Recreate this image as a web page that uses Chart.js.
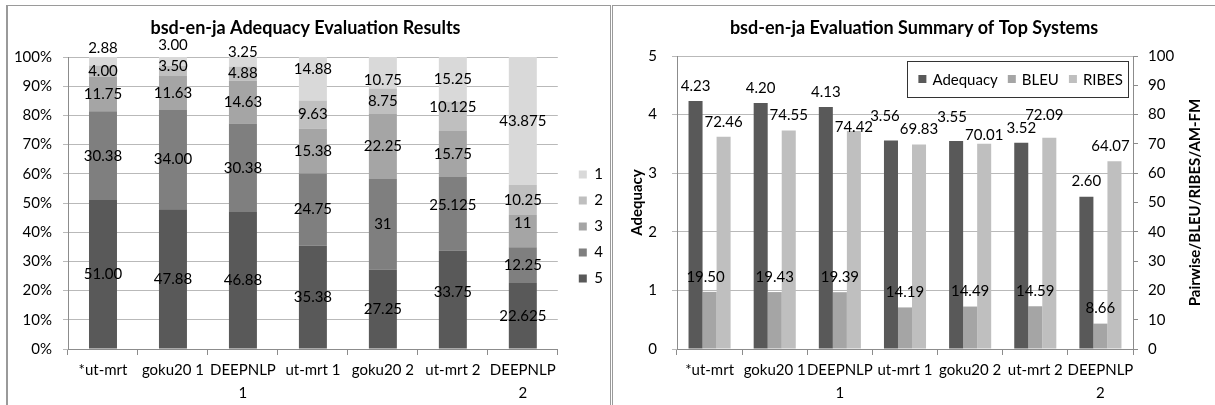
<!DOCTYPE html>
<html>
<head>
<meta charset="utf-8">
<title>bsd-en-ja evaluation</title>
<script src="https://cdn.jsdelivr.net/npm/chart.js@4.4.1/dist/chart.umd.min.js"></script>
<style>
  html, body { margin: 0; padding: 0; background: #fff; }
  body { width: 1215px; height: 405px; overflow: hidden; position: relative; }
  .panel { position: absolute; top: 5px; height: 420px; border-top: 1px solid #9a9a9a; }
  #leftPanel { left: 6px; width: 602px; border-left: 2px solid #9a9a9a; border-right: 1px solid #9a9a9a; }
  #rightPanel { left: 612px; width: 620px; border-left: 1px solid #9a9a9a; }
  canvas { display: block; }
</style>
</head>
<body>
<div class="panel" id="leftPanel"><canvas id="adequacyChart" width="602" height="399"></canvas></div>
<div class="panel" id="rightPanel"><canvas id="summaryChart" width="602" height="399"></canvas></div>
<script>
// Systems shown on both charts
const systems = ['*ut-mrt', 'goku20 1', 'DEEPNLP 1', 'ut-mrt 1', 'goku20 2', 'ut-mrt 2', 'DEEPNLP 2'];

// Share of each adequacy grade (%) per system, grade 5 at the bottom of the stack
const grade5 = [51.00, 47.88, 46.88, 35.38, 27.25, 33.75, 22.625];
const grade4 = [30.38, 34.00, 30.38, 24.75, 31, 25.125, 12.25];
const grade3 = [11.75, 11.63, 14.63, 15.38, 22.25, 15.75, 11];
const grade2 = [4.00, 3.50, 4.88, 9.63, 8.75, 10.125, 10.25];
const grade1 = [2.88, 3.00, 3.25, 14.88, 10.75, 15.25, 43.875];

// Summary scores of the top systems
const adequacy = [4.23, 4.20, 4.13, 3.56, 3.55, 3.52, 2.60];
const bleu = [19.50, 19.43, 19.39, 14.19, 14.49, 14.59, 8.66];
const ribes = [72.46, 74.55, 74.42, 69.83, 70.01, 72.09, 64.07];

const gridGray = '#b9b9b9';
const axisGray = '#8c8c8c';

Chart.defaults.font.family = 'Lato';
Chart.defaults.font.size = 15;
Chart.defaults.color = '#000';

// first four systems print two decimals, the rest print as entered
const gradeText = (v, i) => i < 4 ? v.toFixed(2) : String(v);
const scoreText = v => v.toFixed(2);

// hand-placed labels, [dx, dy] in px keyed by "dataset,index"
const gradeLabelShift = {
    '4,0': [0, -13], '4,1': [0, -16], '4,2': [0, -10], '4,3': [0, -10], '4,4': [0, 7],
    '3,1': [0, -5], '0,5': [0, -7], '1,5': [0, -9], '3,5': [0, -9], '2,6': [0, -8]
};
const scoreLabelShift = {
    '0,3': [-6, -9], '0,4': [-4, -9], '1,0': [-4, 0],
    '2,2': [0, 11], '2,4': [0, 6], '2,5': [-5, -8], '2,6': [-4, 0]
};

// break long category names onto two lines
function wrapLabel(value) {
    const text = this.getLabelForValue(value);
    const cut = text.lastIndexOf(' ');
    return text.length > 8 ? [text.slice(0, cut), text.slice(cut + 1)] : text;
}

function barValueLabels(format, shifts, inside) {
    return {
        id: 'barValueLabels',
        afterDatasetsDraw(chart) {
            const ctx = chart.ctx;
            ctx.save();
            ctx.font = '15px Lato';
            ctx.fillStyle = '#000';
            ctx.textAlign = 'center';
            ctx.textBaseline = 'middle';
            chart.data.datasets.forEach((ds, di) => {
                chart.getDatasetMeta(di).data.forEach((bar, i) => {
                    const [dx, dy] = shifts[di + ',' + i] || [0, 0];
                    const y = inside ? (bar.y + bar.base) / 2 : bar.y - 15;
                    ctx.fillText(format(ds.data[i], i), bar.x + dx, y + dy);
                });
            });
            ctx.restore();
        }
    };
}

// move the built-in legend away from the plot
function legendOffset(dx, dy) {
    return {
        id: 'legendOffset',
        afterLayout(chart) {
            const lg = chart.legend;
            lg.left += dx; lg.right += dx;
            lg.top += dy; lg.bottom += dy;
        }
    };
}

// boxed legend inside the top right corner of the plot
const boxedLegend = {
    id: 'boxedLegend',
    afterDraw(chart) {
        const { ctx, chartArea } = chart;
        const square = 8, gap = 6, spacing = 10;
        ctx.save();
        ctx.font = '15px Lato';
        const items = chart.data.datasets.map(ds => ({
            text: ds.label,
            color: ds.backgroundColor,
            width: square + gap + ctx.measureText(ds.label).width
        }));
        const inner = items.reduce((s, it) => s + it.width, 0) + spacing * (items.length - 1);
        const right = chartArea.right - 5;
        const left = right - inner - 16;
        const top = chartArea.top + 5;
        const height = 36;
        ctx.fillStyle = '#fff';
        ctx.fillRect(left, top, right - left, height);
        ctx.strokeStyle = '#333';
        ctx.lineWidth = 1;
        ctx.strokeRect(Math.round(left) + 0.5, Math.round(top) + 0.5, Math.round(right - left), height);
        let x = left + 11;
        const cy = top + height / 2;
        ctx.textBaseline = 'middle';
        for (const it of items) {
            ctx.fillStyle = it.color;
            ctx.fillRect(x, cy - square / 2, square, square);
            ctx.fillStyle = '#000';
            ctx.fillText(it.text, x + square + gap, cy + 1);
            x += it.width + spacing;
        }
        ctx.restore();
    }
};

// right axis title, read bottom to top like the left one
const rightAxisTitle = {
    id: 'rightAxisTitle',
    afterDraw(chart) {
        const s = chart.scales.y1;
        const ctx = chart.ctx;
        ctx.save();
        ctx.translate(s.right - 20, (s.top + s.bottom) / 2);
        ctx.rotate(-Math.PI / 2);
        ctx.font = 'bold 15px Lato';
        ctx.fillStyle = '#000';
        ctx.textAlign = 'center';
        ctx.textBaseline = 'middle';
        ctx.fillText('Pairwise/BLEU/RIBES/AM-FM', 0, 0);
        ctx.restore();
    }
};

const categoryAxis = {
    grid: { drawOnChartArea: false, drawTicks: true, tickLength: 6, color: axisGray },
    border: { color: axisGray },
    ticks: { font: { size: 15, lineHeight: 1.5 }, padding: 4, maxRotation: 0, autoSkip: false, callback: wrapLabel },
    afterFit: s => { s.height = 56; }
};

new Chart(document.getElementById('adequacyChart'), {
    type: 'bar',
    data: {
        labels: systems,
        datasets: [
            { label: '5', data: grade5, backgroundColor: '#595959' },
            { label: '4', data: grade4, backgroundColor: '#7f7f7f' },
            { label: '3', data: grade3, backgroundColor: '#a5a5a5' },
            { label: '2', data: grade2, backgroundColor: '#bfbfbf' },
            { label: '1', data: grade1, backgroundColor: '#d9d9d9' }
        ]
    },
    options: {
        responsive: false,
        animation: false,
        layout: { padding: { right: 7 } },
        datasets: { bar: { barPercentage: 0.4, categoryPercentage: 1 } },
        plugins: {
            title: {
                display: true,
                text: 'bsd-en-ja Adequacy Evaluation Results',
                font: { size: 18, weight: 'bold' },
                padding: { top: 11.2, bottom: 18.2 }
            },
            legend: {
                position: 'right',
                reverse: true,
                labels: { boxWidth: 8, boxHeight: 8, padding: 11, font: { size: 15 } }
            },
            tooltip: { enabled: false }
        },
        scales: {
            x: Object.assign({ stacked: true }, categoryAxis),
            y: {
                stacked: true,
                min: 0,
                max: 100,
                ticks: { stepSize: 10, padding: 11, callback: v => v + '%' },
                grid: { color: gridGray, tickLength: 5 },
                border: { color: axisGray },
                afterFit: s => { s.width = 60; }
            }
        }
    },
    plugins: [barValueLabels(gradeText, gradeLabelShift, true), legendOffset(10, 21)]
});

new Chart(document.getElementById('summaryChart'), {
    type: 'bar',
    data: {
        labels: systems,
        datasets: [
            { label: 'Adequacy', data: adequacy, backgroundColor: '#595959', yAxisID: 'y' },
            { label: 'BLEU', data: bleu, backgroundColor: '#a5a5a5', yAxisID: 'y1' },
            { label: 'RIBES', data: ribes, backgroundColor: '#bfbfbf', yAxisID: 'y1' }
        ]
    },
    options: {
        responsive: false,
        animation: false,
        datasets: { bar: { barPercentage: 1, categoryPercentage: 0.646 } },
        plugins: {
            title: {
                display: true,
                text: 'bsd-en-ja Evaluation Summary of Top Systems',
                font: { size: 18, weight: 'bold' },
                padding: { top: 11.2, bottom: 17.2 }
            },
            legend: { display: false },
            tooltip: { enabled: false }
        },
        scales: {
            x: categoryAxis,
            y: {
                position: 'left',
                min: 0,
                max: 5,
                ticks: { stepSize: 1, padding: 15 },
                grid: { color: gridGray, tickLength: 5 },
                border: { color: axisGray },
                title: {
                    display: true,
                    text: 'Adequacy',
                    font: { size: 15, weight: 'bold' },
                    padding: { top: 15, bottom: 0 }
                },
                afterFit: s => { s.width = 64; }
            },
            y1: {
                position: 'right',
                min: 0,
                max: 100,
                ticks: { stepSize: 10, padding: 10 },
                grid: { drawOnChartArea: false, tickLength: 5, color: axisGray },
                border: { color: axisGray },
                afterFit: s => { s.width = 82; }
            }
        }
    },
    plugins: [barValueLabels(scoreText, scoreLabelShift, false), boxedLegend, rightAxisTitle]
});
</script>
</body>
</html>
